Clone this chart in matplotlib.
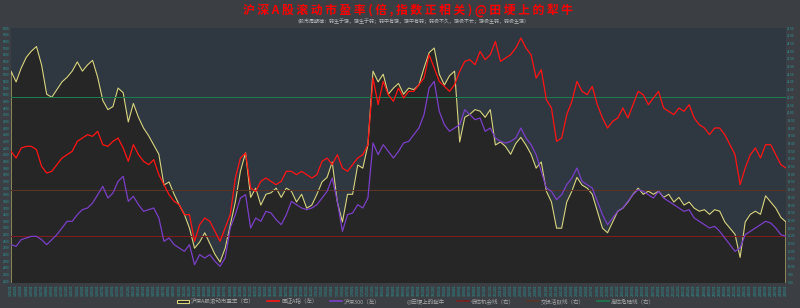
import numpy as np
import pandas as pd
import matplotlib
matplotlib.use("Agg")
import matplotlib.pyplot as plt
from matplotlib.ticker import MultipleLocator
from matplotlib.lines import Line2D
from matplotlib.patches import Patch

plt.rcParams['font.family'] = ['Noto Sans CJK SC', 'DejaVu Sans']

# -------------------------
# Data
# -------------------------
dates = pd.date_range("2012-01-01", periods=153, freq="MS").strftime("%y%m%d")

# 沪深A股滚动市盈率 (right axis)
pe = [22.7, 22.0, 22.9, 23.6, 24.0, 24.3, 23.1, 21.2, 21.0, 21.5,
      22.0, 22.3, 22.7, 23.3, 22.7, 23.1, 23.4, 22.3, 20.8, 20.2,
      20.4, 21.6, 21.3, 19.4, 20.6, 19.7, 19.0, 18.5, 17.9, 17.3,
      15.3, 15.5, 14.7, 14.0, 13.4, 12.5, 11.2, 11.6, 12.2, 11.5,
      10.8, 10.3, 11.2, 12.7, 14.2, 16.2, 17.4, 14.5, 15.1, 14.0,
      14.7, 14.8, 15.1, 14.5, 15.1, 14.9, 14.2, 14.7, 13.8, 14.0,
      14.7, 15.5, 15.8, 16.8, 14.2, 12.9, 14.7, 14.7, 16.6, 16.4,
      17.9, 22.7, 22.0, 22.5, 21.2, 21.6, 21.9, 21.2, 21.6, 21.5,
      21.8, 22.9, 23.9, 24.2, 22.5, 21.8, 22.4, 22.7, 18.1, 19.7,
      19.9, 20.2, 20.1, 19.7, 20.2, 17.9, 18.1, 17.8, 17.3, 18.0,
      18.4, 17.9, 17.3, 16.4, 16.8, 14.9, 14.2, 12.5, 12.5, 14.2,
      14.9, 15.8, 15.3, 15.1, 14.7, 13.6, 12.5, 12.2, 12.9, 13.6,
      13.8, 14.2, 14.7, 15.1, 14.7, 14.9, 14.7, 14.9, 14.5, 14.7,
      14.2, 14.5, 14.0, 14.2, 13.8, 13.6, 13.7, 13.4, 13.7, 13.6,
      12.9, 12.5, 12.1, 10.6, 12.9, 13.4, 13.6, 13.4, 14.6, 14.2,
      13.8, 13.2, 12.9]

# 国证A指 (left axis)
gzaz = [4150, 4050, 4200, 4225, 4225, 4175, 3925, 3825, 3850, 3950,
        4050, 4100, 4150, 4300, 4350, 4400, 4375, 4450, 4250, 4225,
        4300, 4350, 4200, 4000, 4250, 4100, 4000, 3950, 4025, 3800,
        3650, 3500, 3400, 3350, 3200, 3200, 2800, 3050, 3150, 3100,
        2950, 2800, 3000, 3200, 3750, 4050, 4125, 3600, 3550, 3700,
        3750, 3700, 3650, 3700, 3850, 3850, 3800, 3850, 3800, 3750,
        3800, 4000, 4050, 3950, 4100, 3900, 3850, 3950, 4050, 4100,
        4250, 5250, 4850, 5200, 5000, 4900, 5100, 4950, 5050, 5050,
        5150, 5250, 5600, 5400, 5200, 5125, 5050, 5150, 5350, 5500,
        5525, 5450, 5650, 5525, 5600, 5800, 5500, 5550, 5600, 5700,
        5850, 5700, 5600, 5250, 5375, 4925, 4800, 4300, 4350, 4700,
        4900, 5200, 5050, 5000, 5125, 4850, 4650, 4500, 4600, 4650,
        4800, 4650, 4850, 5050, 5000, 4850, 4950, 5050, 4800, 4750,
        4700, 4800, 4750, 4850, 4650, 4550, 4500, 4400, 4500, 4500,
        4400, 4250, 4100, 3650, 3900, 4100, 4200, 4050, 4250, 4250,
        4100, 3950, 3900]

# 沪深300 (left axis)
hs300 = [2750, 2725, 2825, 2850, 2875, 2875, 2825, 2750, 2825, 2900,
         3000, 3100, 3100, 3200, 3275, 3300, 3375, 3500, 3625, 3450,
         3525, 3700, 3775, 3400, 3475, 3350, 3250, 3275, 3300, 3150,
         2800, 2850, 2750, 2700, 2650, 2750, 2450, 2600, 2550, 2600,
         2500, 2425, 2550, 3000, 3200, 3450, 3500, 3000, 3150, 3100,
         3250, 3225, 3125, 3050, 3200, 3400, 3350, 3300, 3275, 3300,
         3350, 3450, 3550, 3750, 3400, 2950, 3200, 3225, 3350, 3300,
         3450, 4275, 4100, 4250, 4150, 4050, 4150, 4275, 4300, 4400,
         4500, 4700, 5100, 5200, 4750, 4550, 4450, 4500, 4550, 4775,
         4700, 4625, 4650, 4450, 4500, 4350, 4300, 4275, 4300, 4350,
         4500, 4350, 4250, 4100, 3850, 3600, 3550, 3425, 3500, 3650,
         3750, 3900, 3700, 3650, 3600, 3400, 3200, 3050, 3150, 3250,
         3300, 3400, 3500, 3575, 3550, 3500, 3450, 3550, 3450, 3400,
         3350, 3300, 3250, 3275, 3150, 3100, 3050, 3000, 3025, 2950,
         2850, 2750, 2650, 2700, 2900, 2950, 3000, 3050, 3100, 3075,
         3000, 2900, 2875]

# reference lines on the PE axis
low_line = 12
mid_line = 15
high_line = 21

labels = ["沪深A股滚动市盈率（右）", "国证A指（左）", "沪深300（左）", "@田埂上的犁牛",
          "低估机会线（右）", "交投活跃线（右）", "高估危险线（右）"]

# -------------------------
# Colours
# -------------------------
BG = "#3b3f44"
PLOT_BG = "#2f3741"
FILL = "#262626"
YELLOW = "#d8d47e"
RED = "#ff1414"
PURPLE = "#7b3fc8"
TEAL = "#2a9a9a"
GREEN = "#1d7a4c"
BROWN = "#5a3526"
DARKRED = "#7e1e1e"

# -------------------------
# Figure
# -------------------------
fig = plt.figure(figsize=(8, 3.08), dpi=100, facecolor=BG)
ax = fig.add_axes([0.01375, 0.0812, 0.96875, 0.8278])
ax.set_facecolor(PLOT_BG)
x = np.arange(len(pe))

ax.fill_between(x, pe, 0, facecolor=FILL, edgecolor=YELLOW, linewidth=0.8, zorder=2)
ax.axhline(high_line, color=GREEN, lw=0.8, zorder=3)
ax.axhline(mid_line, color=BROWN, lw=0.8, zorder=3)
ax.axhline(low_line, color=DARKRED, lw=0.8, zorder=3)
ax.set_ylim(8.94, 25.5)
ax.set_xlim(0.2, len(pe) - 1)

ax.set_xticks(x)
ax.set_xticklabels(dates, rotation=90, fontsize=2.6, color=TEAL)
ax.tick_params(axis="x", length=0, pad=1)

ax2 = ax.twinx()
ax2.plot(x, gzaz, color=RED, lw=0.9, zorder=4)
ax2.plot(x, hs300, color=PURPLE, lw=0.9, zorder=4)
ax2.set_ylim(2175, 6000)

# twinx puts the host ticks on the left: swap them back
ax.yaxis.tick_right()
ax.yaxis.set_major_locator(MultipleLocator(0.5))
ax.yaxis.set_major_formatter(plt.FuncFormatter(lambda v, p: f"{v:.2f}"))
ax.tick_params(axis="y", colors=TEAL, labelsize=2.2, length=0, pad=1)
ax2.yaxis.tick_left()
ax2.yaxis.set_major_locator(MultipleLocator(100))
ax2.tick_params(axis="y", colors=TEAL, labelsize=2.2, length=0, pad=1)

for a in (ax, ax2):
    for s in a.spines.values():
        s.set_visible(False)

# -------------------------
# Titles
# -------------------------
title = "沪深A股滚动市盈率(倍,指数正相关)@田埂上的犁牛"
fig.text(0.51, 0.967, " ".join(title), ha="center", va="center", color="#ff0000",
         fontsize=8.5, fontweight="bold")
fig.text(0.515, 0.93, "（股市周期律：弱生于强，强生于弱；弱中有强，强中有弱；弱极不久，强极不长；强极生弱，弱极生强）",
         ha="center", va="center", color="#b8b8b8", fontsize=3.6)

# -------------------------
# Legend
# -------------------------
handles = [Patch(facecolor=FILL, edgecolor=YELLOW, linewidth=0.8),
           Line2D([], [], color=RED, lw=1.2),
           Line2D([], [], color=PURPLE, lw=1.2),
           Line2D([], [], color=BG, lw=0),
           Line2D([], [], color=DARKRED, lw=1.2),
           Line2D([], [], color=BROWN, lw=1.2),
           Line2D([], [], color=GREEN, lw=1.2)]
fig.legend(handles, labels, loc="center", bbox_to_anchor=(0.52, 0.022), ncol=7,
           frameon=False, fontsize=4, labelcolor="#a8a8a8", handlelength=2.2,
           handleheight=0.6, columnspacing=2.2, handletextpad=0.3,
           borderaxespad=0, borderpad=0)

fig.savefig("out.png", dpi=100, facecolor=BG)
